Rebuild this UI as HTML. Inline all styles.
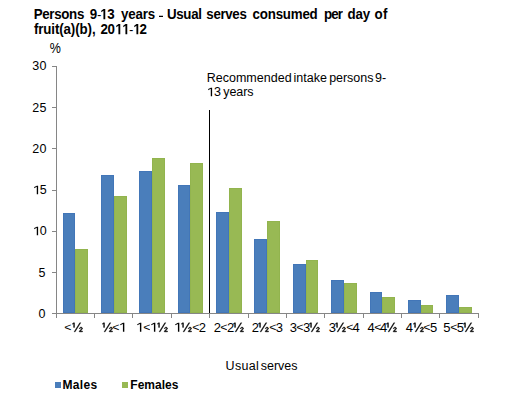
<!DOCTYPE html>
<html><head><meta charset="utf-8"><style>
html,body{margin:0;padding:0;background:#fff;}
body{width:525px;height:414px;position:relative;overflow:hidden;font-family:"Liberation Sans",sans-serif;color:#000;}
span{position:absolute;line-height:1;white-space:nowrap;}
div{position:absolute;}
i{font-style:normal;position:relative;color:transparent}i svg{position:absolute;left:0;top:0;overflow:visible;fill:#000}em{font-style:normal;display:inline-block;line-height:0;transform:scale(.95,.8);transform-origin:50% 50.6%}u{text-decoration:none;display:inline-block;line-height:0;transform:translateY(.8px) scale(.9,.62);transform-origin:50% 58.6%}
</style></head><body>
<div style="left:63px;top:213px;width:12px;height:100px;background:#4A7EBB;box-shadow:inset 0 0 0 1px #4276B8;"></div>
<div style="left:75px;top:249px;width:13px;height:64px;background:#98B954;box-shadow:inset 0 0 0 1px #92B44E;"></div>
<div style="left:101px;top:175px;width:13px;height:138px;background:#4A7EBB;box-shadow:inset 0 0 0 1px #4276B8;"></div>
<div style="left:114px;top:196px;width:13px;height:117px;background:#98B954;box-shadow:inset 0 0 0 1px #92B44E;"></div>
<div style="left:139px;top:171px;width:13px;height:142px;background:#4A7EBB;box-shadow:inset 0 0 0 1px #4276B8;"></div>
<div style="left:152px;top:158px;width:13px;height:155px;background:#98B954;box-shadow:inset 0 0 0 1px #92B44E;"></div>
<div style="left:178px;top:185px;width:12px;height:128px;background:#4A7EBB;box-shadow:inset 0 0 0 1px #4276B8;"></div>
<div style="left:190px;top:163px;width:13px;height:150px;background:#98B954;box-shadow:inset 0 0 0 1px #92B44E;"></div>
<div style="left:216px;top:212px;width:13px;height:101px;background:#4A7EBB;box-shadow:inset 0 0 0 1px #4276B8;"></div>
<div style="left:229px;top:188px;width:13px;height:125px;background:#98B954;box-shadow:inset 0 0 0 1px #92B44E;"></div>
<div style="left:254px;top:239px;width:13px;height:74px;background:#4A7EBB;box-shadow:inset 0 0 0 1px #4276B8;"></div>
<div style="left:267px;top:221px;width:13px;height:92px;background:#98B954;box-shadow:inset 0 0 0 1px #92B44E;"></div>
<div style="left:293px;top:264px;width:13px;height:49px;background:#4A7EBB;box-shadow:inset 0 0 0 1px #4276B8;"></div>
<div style="left:306px;top:260px;width:12px;height:53px;background:#98B954;box-shadow:inset 0 0 0 1px #92B44E;"></div>
<div style="left:331px;top:280px;width:13px;height:33px;background:#4A7EBB;box-shadow:inset 0 0 0 1px #4276B8;"></div>
<div style="left:344px;top:283px;width:13px;height:30px;background:#98B954;box-shadow:inset 0 0 0 1px #92B44E;"></div>
<div style="left:370px;top:292px;width:12px;height:21px;background:#4A7EBB;box-shadow:inset 0 0 0 1px #4276B8;"></div>
<div style="left:382px;top:297px;width:13px;height:16px;background:#98B954;box-shadow:inset 0 0 0 1px #92B44E;"></div>
<div style="left:408px;top:300px;width:13px;height:13px;background:#4A7EBB;box-shadow:inset 0 0 0 1px #4276B8;"></div>
<div style="left:421px;top:305px;width:12px;height:8px;background:#98B954;box-shadow:inset 0 0 0 1px #92B44E;"></div>
<div style="left:446px;top:295px;width:13px;height:18px;background:#4A7EBB;box-shadow:inset 0 0 0 1px #4276B8;"></div>
<div style="left:459px;top:307px;width:13px;height:6px;background:#98B954;box-shadow:inset 0 0 0 1px #92B44E;"></div>
<div style="left:56px;top:66px;width:1px;height:248px;background:#868686;"></div>
<div style="left:52px;top:313px;width:4px;height:1px;background:#868686;"></div>
<div style="left:52px;top:272px;width:4px;height:1px;background:#868686;"></div>
<div style="left:52px;top:231px;width:4px;height:1px;background:#868686;"></div>
<div style="left:52px;top:190px;width:4px;height:1px;background:#868686;"></div>
<div style="left:52px;top:148px;width:4px;height:1px;background:#868686;"></div>
<div style="left:52px;top:107px;width:4px;height:1px;background:#868686;"></div>
<div style="left:52px;top:66px;width:4px;height:1px;background:#868686;"></div>
<div style="left:56px;top:313px;width:423px;height:1px;background:#868686;"></div>
<div style="left:56px;top:314px;width:1px;height:4px;background:#868686;"></div>
<div style="left:94px;top:314px;width:1px;height:4px;background:#868686;"></div>
<div style="left:132px;top:314px;width:1px;height:4px;background:#868686;"></div>
<div style="left:171px;top:314px;width:1px;height:4px;background:#868686;"></div>
<div style="left:209px;top:314px;width:1px;height:4px;background:#868686;"></div>
<div style="left:248px;top:314px;width:1px;height:4px;background:#868686;"></div>
<div style="left:286px;top:314px;width:1px;height:4px;background:#868686;"></div>
<div style="left:324px;top:314px;width:1px;height:4px;background:#868686;"></div>
<div style="left:363px;top:314px;width:1px;height:4px;background:#868686;"></div>
<div style="left:401px;top:314px;width:1px;height:4px;background:#868686;"></div>
<div style="left:439px;top:314px;width:1px;height:4px;background:#868686;"></div>
<div style="left:478px;top:314px;width:1px;height:4px;background:#868686;"></div>
<div style="left:209px;top:110px;width:1px;height:203px;background:#000;"></div>
<div style="left:159px;top:16px;width:4px;height:1px;background:#000;"></div>
<div style="left:159px;top:15px;width:4px;height:1px;background:rgba(0,0,0,.25);"></div>
<div style="left:55px;top:382px;width:6px;height:6px;background:#4A7EBB;"></div>
<div style="left:122px;top:382px;width:6px;height:6px;background:#98B954;"></div>
<span style="left:33.64px;top:7.00px;font-size:13.33px;font-weight:bold;letter-spacing:-0.311px;transform-origin:0 0;transform:scaleY(1.1);">Persons</span>
<span style="left:89.64px;top:7.00px;font-size:13.33px;font-weight:bold;letter-spacing:-0.518px;transform-origin:0 0;transform:scaleY(1.1);">9<u>-</u><i>1<svg viewBox="0 0 1139 2288" style="width:.5562em;height:1.1172em"><path transform="translate(0 1854) scale(1 -1)" d="M528 0V1170L190 959V1180L543 1409H809V0Z"/></svg></i>3</span>
<span style="left:120.91px;top:7.00px;font-size:13.33px;font-weight:bold;letter-spacing:-0.120px;transform-origin:0 0;transform:scaleY(1.1);">years</span>
<span style="left:167.01px;top:7.00px;font-size:13.33px;font-weight:bold;letter-spacing:-0.344px;transform-origin:0 0;transform:scaleY(1.1);">Usual</span>
<span style="left:206.35px;top:7.00px;font-size:13.33px;font-weight:bold;letter-spacing:-0.360px;transform-origin:0 0;transform:scaleY(1.1);">serves</span>
<span style="left:252.60px;top:7.00px;font-size:13.33px;font-weight:bold;letter-spacing:-0.214px;transform-origin:0 0;transform:scaleY(1.1);">consumed</span>
<span style="left:323.92px;top:7.00px;font-size:13.33px;font-weight:bold;letter-spacing:-0.796px;transform-origin:0 0;transform:scaleY(1.1);">per</span>
<span style="left:347.39px;top:7.00px;font-size:13.33px;font-weight:bold;letter-spacing:-0.131px;transform-origin:0 0;transform:scaleY(1.1);">day</span>
<span style="left:374.47px;top:7.00px;font-size:13.33px;font-weight:bold;letter-spacing:0.317px;transform-origin:0 0;transform:scaleY(1.1);">of</span>
<span style="left:33.89px;top:21.57px;font-size:13.33px;font-weight:bold;letter-spacing:-0.109px;transform-origin:0 0;transform:scaleY(1.1);">fruit(a)(b),</span>
<span style="left:100.60px;top:21.57px;font-size:13.33px;font-weight:bold;letter-spacing:-0.425px;transform-origin:0 0;transform:scaleY(1.1);">20<i>1<svg viewBox="0 0 1139 2288" style="width:.5562em;height:1.1172em"><path transform="translate(0 1854) scale(1 -1)" d="M528 0V1170L190 959V1180L543 1409H809V0Z"/></svg></i><i>1<svg viewBox="0 0 1139 2288" style="width:.5562em;height:1.1172em"><path transform="translate(0 1854) scale(1 -1)" d="M528 0V1170L190 959V1180L543 1409H809V0Z"/></svg></i><u>-</u><i>1<svg viewBox="0 0 1139 2288" style="width:.5562em;height:1.1172em"><path transform="translate(0 1854) scale(1 -1)" d="M528 0V1170L190 959V1180L543 1409H809V0Z"/></svg></i>2</span>
<span style="left:206.65px;top:71.80px;font-size:12.50px;letter-spacing:0.027px;">Recommended</span>
<span style="left:293.40px;top:71.80px;font-size:12.50px;letter-spacing:0.029px;">intake</span>
<span style="left:329.20px;top:71.80px;font-size:12.50px;letter-spacing:-0.043px;">persons</span>
<span style="left:374.88px;top:71.80px;font-size:12.50px;letter-spacing:0.277px;">9-</span>
<span style="left:206.75px;top:85.77px;font-size:12.50px;letter-spacing:0.373px;"><i>1<svg viewBox="0 0 1139 2288" style="width:.5562em;height:1.1172em"><path transform="translate(0 1854) scale(1 -1)" d="M620 0V1237L200 1010V1180L635 1409H840V0Z"/></svg></i>3</span>
<span style="left:223.33px;top:85.77px;font-size:12.50px;letter-spacing:-0.116px;">years</span>
<span style="left:225.61px;top:360.31px;font-size:12.50px;letter-spacing:0.332px;">Usual</span>
<span style="left:260.86px;top:360.31px;font-size:12.50px;letter-spacing:-0.053px;">serves</span>
<span style="left:62.58px;top:378.80px;font-size:12.00px;font-weight:bold;letter-spacing:0.297px;">Males</span>
<span style="left:130.33px;top:378.80px;font-size:12.00px;font-weight:bold;letter-spacing:0.015px;">Females</span>
<span style="left:49.82px;top:42.43px;font-size:12.50px;transform-origin:0 0;transform:scaleY(1.1);">%</span>
<span style="left:64.42px;top:320.57px;font-size:13.00px;letter-spacing:-0.483px;"><em>&lt;</em><i>&#189;<svg viewBox="0 0 1708 2288" style="width:.834em;height:1.1172em"><g transform="translate(0 1854) scale(1 -1)"><path transform="translate(267 1409) scale(0.85) translate(-267 -1409)" d="M267 563V1290L65 1152V1272L275 1409H398V563Z" stroke="#000" stroke-width="100"/><path d="M493 0H345L1226 1409H1371Z" stroke="#000" stroke-width="70"/><path transform="translate(1653 0) scale(0.82) translate(-1653 0)" d="M1053 2 1051 105Q1082 174 1146.5 239.5Q1211 305 1318 379Q1415 447 1459.0 503.0Q1503 559 1503 617Q1503 679 1467.5 716.5Q1432 754 1358 754Q1290 754 1246.0 717.5Q1202 681 1194 613L1061 621Q1074 728 1154.5 794.0Q1235 860 1364 860Q1491 860 1565.5 798.5Q1640 737 1640 627Q1640 480 1452 342Q1330 252 1280.0 206.0Q1230 160 1210 115H1653V2Z" stroke="#000" stroke-width="120"/></g></svg></i></span>
<span style="left:101.77px;top:320.57px;font-size:13.00px;letter-spacing:-0.525px;"><i>&#189;<svg viewBox="0 0 1708 2288" style="width:.834em;height:1.1172em"><g transform="translate(0 1854) scale(1 -1)"><path transform="translate(267 1409) scale(0.85) translate(-267 -1409)" d="M267 563V1290L65 1152V1272L275 1409H398V563Z" stroke="#000" stroke-width="100"/><path d="M493 0H345L1226 1409H1371Z" stroke="#000" stroke-width="70"/><path transform="translate(1653 0) scale(0.82) translate(-1653 0)" d="M1053 2 1051 105Q1082 174 1146.5 239.5Q1211 305 1318 379Q1415 447 1459.0 503.0Q1503 559 1503 617Q1503 679 1467.5 716.5Q1432 754 1358 754Q1290 754 1246.0 717.5Q1202 681 1194 613L1061 621Q1074 728 1154.5 794.0Q1235 860 1364 860Q1491 860 1565.5 798.5Q1640 737 1640 627Q1640 480 1452 342Q1330 252 1280.0 206.0Q1230 160 1210 115H1653V2Z" stroke="#000" stroke-width="120"/></g></svg></i><em>&lt;</em><i>1<svg viewBox="0 0 1139 2288" style="width:.5562em;height:1.1172em"><path transform="translate(0 1854) scale(1 -1)" d="M620 0V1237L200 1010V1180L635 1409H840V0Z"/></svg></i></span>
<span style="left:136.38px;top:320.57px;font-size:13.00px;letter-spacing:-0.633px;"><i>1<svg viewBox="0 0 1139 2288" style="width:.5562em;height:1.1172em"><path transform="translate(0 1854) scale(1 -1)" d="M620 0V1237L200 1010V1180L635 1409H840V0Z"/></svg></i><em>&lt;</em><i>1<svg viewBox="0 0 1139 2288" style="width:.5562em;height:1.1172em"><path transform="translate(0 1854) scale(1 -1)" d="M620 0V1237L200 1010V1180L635 1409H840V0Z"/></svg></i><i>&#189;<svg viewBox="0 0 1708 2288" style="width:.834em;height:1.1172em"><g transform="translate(0 1854) scale(1 -1)"><path transform="translate(267 1409) scale(0.85) translate(-267 -1409)" d="M267 563V1290L65 1152V1272L275 1409H398V563Z" stroke="#000" stroke-width="100"/><path d="M493 0H345L1226 1409H1371Z" stroke="#000" stroke-width="70"/><path transform="translate(1653 0) scale(0.82) translate(-1653 0)" d="M1053 2 1051 105Q1082 174 1146.5 239.5Q1211 305 1318 379Q1415 447 1459.0 503.0Q1503 559 1503 617Q1503 679 1467.5 716.5Q1432 754 1358 754Q1290 754 1246.0 717.5Q1202 681 1194 613L1061 621Q1074 728 1154.5 794.0Q1235 860 1364 860Q1491 860 1565.5 798.5Q1640 737 1640 627Q1640 480 1452 342Q1330 252 1280.0 206.0Q1230 160 1210 115H1653V2Z" stroke="#000" stroke-width="120"/></g></svg></i></span>
<span style="left:174.38px;top:320.57px;font-size:13.00px;letter-spacing:-0.465px;"><i>1<svg viewBox="0 0 1139 2288" style="width:.5562em;height:1.1172em"><path transform="translate(0 1854) scale(1 -1)" d="M620 0V1237L200 1010V1180L635 1409H840V0Z"/></svg></i><i>&#189;<svg viewBox="0 0 1708 2288" style="width:.834em;height:1.1172em"><g transform="translate(0 1854) scale(1 -1)"><path transform="translate(267 1409) scale(0.85) translate(-267 -1409)" d="M267 563V1290L65 1152V1272L275 1409H398V563Z" stroke="#000" stroke-width="100"/><path d="M493 0H345L1226 1409H1371Z" stroke="#000" stroke-width="70"/><path transform="translate(1653 0) scale(0.82) translate(-1653 0)" d="M1053 2 1051 105Q1082 174 1146.5 239.5Q1211 305 1318 379Q1415 447 1459.0 503.0Q1503 559 1503 617Q1503 679 1467.5 716.5Q1432 754 1358 754Q1290 754 1246.0 717.5Q1202 681 1194 613L1061 621Q1074 728 1154.5 794.0Q1235 860 1364 860Q1491 860 1565.5 798.5Q1640 737 1640 627Q1640 480 1452 342Q1330 252 1280.0 206.0Q1230 160 1210 115H1653V2Z" stroke="#000" stroke-width="120"/></g></svg></i><em>&lt;</em>2</span>
<span style="left:213.64px;top:320.57px;font-size:13.00px;letter-spacing:-0.751px;">2<em>&lt;</em>2<i>&#189;<svg viewBox="0 0 1708 2288" style="width:.834em;height:1.1172em"><g transform="translate(0 1854) scale(1 -1)"><path transform="translate(267 1409) scale(0.85) translate(-267 -1409)" d="M267 563V1290L65 1152V1272L275 1409H398V563Z" stroke="#000" stroke-width="100"/><path d="M493 0H345L1226 1409H1371Z" stroke="#000" stroke-width="70"/><path transform="translate(1653 0) scale(0.82) translate(-1653 0)" d="M1053 2 1051 105Q1082 174 1146.5 239.5Q1211 305 1318 379Q1415 447 1459.0 503.0Q1503 559 1503 617Q1503 679 1467.5 716.5Q1432 754 1358 754Q1290 754 1246.0 717.5Q1202 681 1194 613L1061 621Q1074 728 1154.5 794.0Q1235 860 1364 860Q1491 860 1565.5 798.5Q1640 737 1640 627Q1640 480 1452 342Q1330 252 1280.0 206.0Q1230 160 1210 115H1653V2Z" stroke="#000" stroke-width="120"/></g></svg></i></span>
<span style="left:251.64px;top:320.57px;font-size:13.00px;letter-spacing:-0.552px;">2<i>&#189;<svg viewBox="0 0 1708 2288" style="width:.834em;height:1.1172em"><g transform="translate(0 1854) scale(1 -1)"><path transform="translate(267 1409) scale(0.85) translate(-267 -1409)" d="M267 563V1290L65 1152V1272L275 1409H398V563Z" stroke="#000" stroke-width="100"/><path d="M493 0H345L1226 1409H1371Z" stroke="#000" stroke-width="70"/><path transform="translate(1653 0) scale(0.82) translate(-1653 0)" d="M1053 2 1051 105Q1082 174 1146.5 239.5Q1211 305 1318 379Q1415 447 1459.0 503.0Q1503 559 1503 617Q1503 679 1467.5 716.5Q1432 754 1358 754Q1290 754 1246.0 717.5Q1202 681 1194 613L1061 621Q1074 728 1154.5 794.0Q1235 860 1364 860Q1491 860 1565.5 798.5Q1640 737 1640 627Q1640 480 1452 342Q1330 252 1280.0 206.0Q1230 160 1210 115H1653V2Z" stroke="#000" stroke-width="120"/></g></svg></i><em>&lt;</em>3</span>
<span style="left:289.85px;top:320.57px;font-size:13.00px;letter-spacing:-0.887px;">3<em>&lt;</em>3<i>&#189;<svg viewBox="0 0 1708 2288" style="width:.834em;height:1.1172em"><g transform="translate(0 1854) scale(1 -1)"><path transform="translate(267 1409) scale(0.85) translate(-267 -1409)" d="M267 563V1290L65 1152V1272L275 1409H398V563Z" stroke="#000" stroke-width="100"/><path d="M493 0H345L1226 1409H1371Z" stroke="#000" stroke-width="70"/><path transform="translate(1653 0) scale(0.82) translate(-1653 0)" d="M1053 2 1051 105Q1082 174 1146.5 239.5Q1211 305 1318 379Q1415 447 1459.0 503.0Q1503 559 1503 617Q1503 679 1467.5 716.5Q1432 754 1358 754Q1290 754 1246.0 717.5Q1202 681 1194 613L1061 621Q1074 728 1154.5 794.0Q1235 860 1364 860Q1491 860 1565.5 798.5Q1640 737 1640 627Q1640 480 1452 342Q1330 252 1280.0 206.0Q1230 160 1210 115H1653V2Z" stroke="#000" stroke-width="120"/></g></svg></i></span>
<span style="left:328.85px;top:320.57px;font-size:13.00px;letter-spacing:-0.699px;">3<i>&#189;<svg viewBox="0 0 1708 2288" style="width:.834em;height:1.1172em"><g transform="translate(0 1854) scale(1 -1)"><path transform="translate(267 1409) scale(0.85) translate(-267 -1409)" d="M267 563V1290L65 1152V1272L275 1409H398V563Z" stroke="#000" stroke-width="100"/><path d="M493 0H345L1226 1409H1371Z" stroke="#000" stroke-width="70"/><path transform="translate(1653 0) scale(0.82) translate(-1653 0)" d="M1053 2 1051 105Q1082 174 1146.5 239.5Q1211 305 1318 379Q1415 447 1459.0 503.0Q1503 559 1503 617Q1503 679 1467.5 716.5Q1432 754 1358 754Q1290 754 1246.0 717.5Q1202 681 1194 613L1061 621Q1074 728 1154.5 794.0Q1235 860 1364 860Q1491 860 1565.5 798.5Q1640 737 1640 627Q1640 480 1452 342Q1330 252 1280.0 206.0Q1230 160 1210 115H1653V2Z" stroke="#000" stroke-width="120"/></g></svg></i><em>&lt;</em>4</span>
<span style="left:367.38px;top:320.57px;font-size:13.00px;letter-spacing:-1.065px;">4<em>&lt;</em>4<i>&#189;<svg viewBox="0 0 1708 2288" style="width:.834em;height:1.1172em"><g transform="translate(0 1854) scale(1 -1)"><path transform="translate(267 1409) scale(0.85) translate(-267 -1409)" d="M267 563V1290L65 1152V1272L275 1409H398V563Z" stroke="#000" stroke-width="100"/><path d="M493 0H345L1226 1409H1371Z" stroke="#000" stroke-width="70"/><path transform="translate(1653 0) scale(0.82) translate(-1653 0)" d="M1053 2 1051 105Q1082 174 1146.5 239.5Q1211 305 1318 379Q1415 447 1459.0 503.0Q1503 559 1503 617Q1503 679 1467.5 716.5Q1432 754 1358 754Q1290 754 1246.0 717.5Q1202 681 1194 613L1061 621Q1074 728 1154.5 794.0Q1235 860 1364 860Q1491 860 1565.5 798.5Q1640 737 1640 627Q1640 480 1452 342Q1330 252 1280.0 206.0Q1230 160 1210 115H1653V2Z" stroke="#000" stroke-width="120"/></g></svg></i></span>
<span style="left:405.85px;top:320.57px;font-size:13.00px;letter-spacing:-0.554px;">4<i>&#189;<svg viewBox="0 0 1708 2288" style="width:.834em;height:1.1172em"><g transform="translate(0 1854) scale(1 -1)"><path transform="translate(267 1409) scale(0.85) translate(-267 -1409)" d="M267 563V1290L65 1152V1272L275 1409H398V563Z" stroke="#000" stroke-width="100"/><path d="M493 0H345L1226 1409H1371Z" stroke="#000" stroke-width="70"/><path transform="translate(1653 0) scale(0.82) translate(-1653 0)" d="M1053 2 1051 105Q1082 174 1146.5 239.5Q1211 305 1318 379Q1415 447 1459.0 503.0Q1503 559 1503 617Q1503 679 1467.5 716.5Q1432 754 1358 754Q1290 754 1246.0 717.5Q1202 681 1194 613L1061 621Q1074 728 1154.5 794.0Q1235 860 1364 860Q1491 860 1565.5 798.5Q1640 737 1640 627Q1640 480 1452 342Q1330 252 1280.0 206.0Q1230 160 1210 115H1653V2Z" stroke="#000" stroke-width="120"/></g></svg></i><em>&lt;</em>5</span>
<span style="left:443.27px;top:320.57px;font-size:13.00px;letter-spacing:-0.661px;">5<em>&lt;</em>5<i>&#189;<svg viewBox="0 0 1708 2288" style="width:.834em;height:1.1172em"><g transform="translate(0 1854) scale(1 -1)"><path transform="translate(267 1409) scale(0.85) translate(-267 -1409)" d="M267 563V1290L65 1152V1272L275 1409H398V563Z" stroke="#000" stroke-width="100"/><path d="M493 0H345L1226 1409H1371Z" stroke="#000" stroke-width="70"/><path transform="translate(1653 0) scale(0.82) translate(-1653 0)" d="M1053 2 1051 105Q1082 174 1146.5 239.5Q1211 305 1318 379Q1415 447 1459.0 503.0Q1503 559 1503 617Q1503 679 1467.5 716.5Q1432 754 1358 754Q1290 754 1246.0 717.5Q1202 681 1194 613L1061 621Q1074 728 1154.5 794.0Q1235 860 1364 860Q1491 860 1565.5 798.5Q1640 737 1640 627Q1640 480 1452 342Q1330 252 1280.0 206.0Q1230 160 1210 115H1653V2Z" stroke="#000" stroke-width="120"/></g></svg></i></span>
<span style="left:38.43px;top:308.34px;font-size:12.50px;">0</span>
<span style="left:38.40px;top:266.67px;font-size:12.50px;">5</span>
<span style="left:32.55px;top:224.50px;font-size:12.50px;letter-spacing:0.124px;"><i>1<svg viewBox="0 0 1139 2288" style="width:.5562em;height:1.1172em"><path transform="translate(0 1854) scale(1 -1)" d="M620 0V1237L200 1010V1180L635 1409H840V0Z"/></svg></i>0</span>
<span style="left:32.55px;top:184.46px;font-size:12.50px;letter-spacing:0.120px;"><i>1<svg viewBox="0 0 1139 2288" style="width:.5562em;height:1.1172em"><path transform="translate(0 1854) scale(1 -1)" d="M620 0V1237L200 1010V1180L635 1409H840V0Z"/></svg></i>5</span>
<span style="left:32.37px;top:142.76px;font-size:12.50px;letter-spacing:0.295px;">20</span>
<span style="left:32.37px;top:101.52px;font-size:12.50px;letter-spacing:0.302px;">25</span>
<span style="left:32.30px;top:59.99px;font-size:12.50px;letter-spacing:0.364px;">30</span>
</body></html>
